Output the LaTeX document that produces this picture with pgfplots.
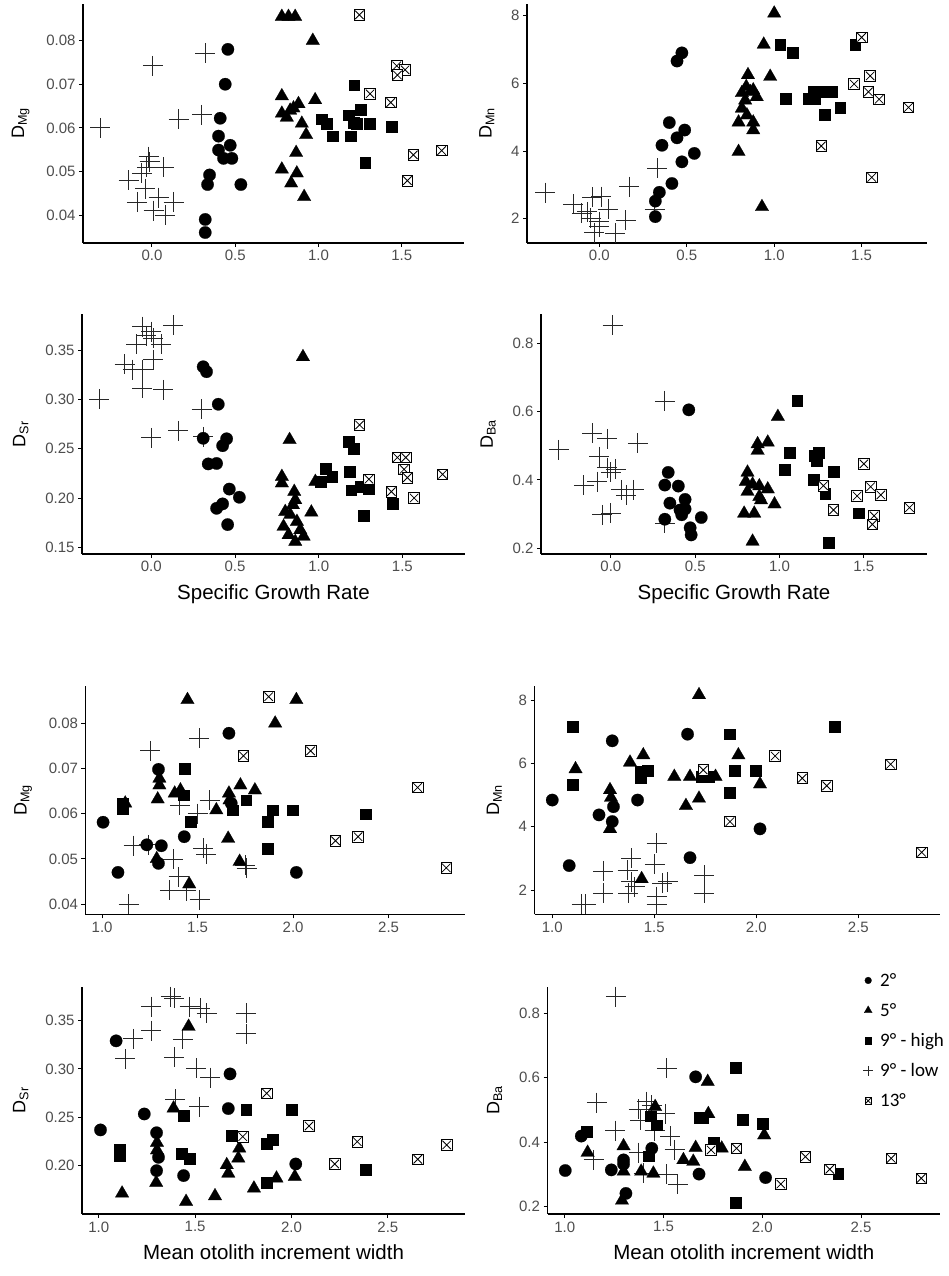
\documentclass[border=0pt]{standalone}
\usepackage{fontspec}
\setmainfont{Liberation Sans}
\newfontfamily\carlito{Carlito}
\usepackage{pgfplots}
\pgfplotsset{compat=1.18}
\definecolor{tickgray}{RGB}{77,77,77}
\definecolor{plusgray}{RGB}{40,40,40}
\pgfdeclareplotmark{boxx}{%
  \pgfpathrectangle{\pgfpoint{-\pgfplotmarksize}{-\pgfplotmarksize}}{\pgfpoint{2\pgfplotmarksize}{2\pgfplotmarksize}}%
  \pgfusepathqfillstroke
  \pgfpathmoveto{\pgfpoint{-0.8\pgfplotmarksize}{-0.8\pgfplotmarksize}}%
  \pgfpathlineto{\pgfpoint{0.8\pgfplotmarksize}{0.8\pgfplotmarksize}}%
  \pgfpathmoveto{\pgfpoint{-0.8\pgfplotmarksize}{0.8\pgfplotmarksize}}%
  \pgfpathlineto{\pgfpoint{0.8\pgfplotmarksize}{-0.8\pgfplotmarksize}}%
  \pgfusepathqstroke
}
\pgfplotsset{
  base/.style={
    scale only axis, anchor=south west, clip=false,
    axis lines*=left,
    axis line style={line width=1.2pt, black},
    tick align=outside, major tick length=4pt,
    tick style={line width=0.9pt, black},
    scaled x ticks=false, scaled y ticks=false,
    ticklabel style={font=\fontsize{15}{15}\selectfont, text=tickgray},
    /pgf/number format/assume math mode=true,
    ylabel style={font=\fontsize{18}{18}\selectfont, text=black, yshift=10pt},
    xlabel style={font=\fontsize{20.5}{20.5}\selectfont, text=black, yshift=-5.5pt},
    x tick label style={/pgf/number format/fixed, /pgf/number format/fixed zerofill, /pgf/number format/precision=1},
  },
  topx/.style={base, xmin=-0.414, xmax=1.874, xtick={0,0.5,1,1.5}},
  botx/.style={base, xmin=0.913, xmax=2.900, xtick={1,1.5,2,2.5}},
  ytwo/.style={y tick label style={/pgf/number format/fixed, /pgf/number format/fixed zerofill, /pgf/number format/precision=2}},
  yone/.style={y tick label style={/pgf/number format/fixed, /pgf/number format/fixed zerofill, /pgf/number format/precision=1}},
  circ/.style={only marks, mark=*, mark size=6.2pt, mark options={fill=black, draw=black, line width=0.2pt}},
  tri/.style={only marks, mark=triangle*, mark size=7.8pt, mark options={fill=black, draw=black, line width=0.2pt}},
  sq/.style={only marks, mark=square*, mark size=5.4pt, mark options={fill=black, draw=black, line width=0.2pt}},
  pl/.style={only marks, mark=+, mark size=10pt, mark options={draw=plusgray, line width=0.9pt}},
  bx/.style={only marks, mark=boxx, mark size=5.3pt, mark options={draw=black, fill=white, line width=0.8pt}},
}
\begin{document}
\begin{tikzpicture}
\path[use as bounding box] (0,0) rectangle (949pt,1276pt);

% Panel 1: SGR vs DMg
\begin{axis}[topx, ytwo, at={(83pt,1033pt)}, width=381pt, height=239pt,
  ymin=0.0336, ymax=0.0884, ytick={0.04,0.05,0.06,0.07,0.08},
  ylabel={D\textsubscript{Mg}}]
\addplot[pl] coordinates {(-0.31,0.060) (0.006,0.0742) (0.32,0.0771) (0.16,0.062) (0.30,0.063) (-0.02,0.0534) (-0.014,0.0522) (0.07,0.051) (-0.14,0.048) (-0.06,0.0496) (-0.04,0.046) (-0.09,0.043) (0.04,0.044) (0.13,0.043) (0.01,0.041) (0.08,0.040) (-0.03,0.051)};
\addplot[circ] coordinates {(0.456,0.078) (0.44,0.070) (0.41,0.0622) (0.40,0.0581) (0.47,0.056) (0.40,0.0549) (0.43,0.053) (0.48,0.053) (0.346,0.0492) (0.334,0.047) (0.534,0.047) (0.32,0.039) (0.32,0.036)};
\addplot[tri] coordinates {(0.78,0.0855) (0.82,0.0855) (0.86,0.0855) (0.966,0.080) (0.78,0.0673) (0.88,0.0655) (0.98,0.0664) (0.85,0.0645) (0.78,0.0633) (0.81,0.0624) (0.83,0.064) (0.90,0.061) (0.926,0.0584) (0.866,0.0543) (0.78,0.0505) (0.87,0.0496) (0.836,0.0473) (0.914,0.0442)};
\addplot[sq] coordinates {(1.214,0.0698) (1.02,0.062) (1.05,0.061) (1.086,0.0581) (1.18,0.0629) (1.21,0.0612) (1.254,0.0641) (1.194,0.0581) (1.306,0.061) (1.44,0.0603) (1.28,0.052) (1.23,0.061)};
\addplot[bx] coordinates {(1.246,0.0859) (1.47,0.0742) (1.52,0.0733) (1.474,0.0721) (1.31,0.0678) (1.434,0.0658) (1.57,0.0538) (1.74,0.0548) (1.534,0.0479)};
\end{axis}

% Panel 2: SGR vs DMn
\begin{axis}[topx, at={(527pt,1033pt)}, width=400pt, height=239pt,
  ymin=1.282, ymax=8.346, ytick={2,4,6,8},
  ylabel={D\textsubscript{Mn}}]
\addplot[pl] coordinates {(-0.31,2.77) (0.33,3.49) (0.17,2.95) (0.316,2.28) (-0.15,2.43) (-0.04,2.63) (0.01,2.65) (0.05,2.28) (-0.10,2.16) (-0.05,2.01) (0.0,1.91) (0.0,1.76) (0.15,1.96) (-0.03,1.59) (0.09,1.57) (-0.07,2.2)};
\addplot[circ] coordinates {(0.472,6.9) (0.444,6.66) (0.40,4.84) (0.488,4.62) (0.444,4.39) (0.358,4.17) (0.543,3.93) (0.472,3.68) (0.415,3.04) (0.343,2.78) (0.32,2.52) (0.32,2.06)};
\addplot[tri] coordinates {(1.0,8.07) (0.94,7.15) (0.977,6.2) (0.85,6.25) (0.84,5.9) (0.815,5.72) (0.863,5.75) (0.90,5.6) (0.88,5.8) (0.834,5.5) (0.815,5.26) (0.844,5.06) (0.796,4.85) (0.88,4.85) (0.88,4.62) (0.796,3.98) (0.93,2.35)};
\addplot[sq] coordinates {(1.034,7.15) (1.107,6.9) (1.463,7.15) (1.063,5.54) (1.196,5.54) (1.225,5.75) (1.27,5.75) (1.234,5.54) (1.326,5.75) (1.377,5.29) (1.29,5.08)};
\addplot[bx] coordinates {(1.50,7.36) (1.549,6.22) (1.457,5.98) (1.539,5.75) (1.60,5.53) (1.768,5.29) (1.269,4.15) (1.558,3.22)};
\end{axis}

% Panel 3: SGR vs DSr
\begin{axis}[topx, ytwo, at={(82pt,722pt)}, width=383pt, height=239.5pt,
  ymin=0.1432, ymax=0.386, ytick={0.15,0.20,0.25,0.30,0.35},
  ylabel={D\textsubscript{Sr}}, xlabel={Specific Growth Rate}]
\addplot[pl] coordinates {(-0.054,0.3737) (0.13,0.375) (0.0,0.3686) (-0.03,0.3645) (0.01,0.362) (-0.09,0.3557) (0.06,0.3557) (0.01,0.340) (-0.16,0.3355) (-0.11,0.330) (-0.05,0.330) (-0.054,0.311) (0.07,0.3095) (-0.31,0.300) (0.30,0.290) (0.16,0.268) (0.0,0.261) (0.31,0.262)};
\addplot[circ] coordinates {(0.31,0.333) (0.33,0.328) (0.40,0.295) (0.31,0.2605) (0.45,0.26) (0.426,0.253) (0.34,0.2345) (0.39,0.235) (0.466,0.209) (0.526,0.2007) (0.426,0.194) (0.39,0.1895) (0.456,0.173)};
\addplot[tri] coordinates {(0.906,0.343) (0.826,0.259) (0.78,0.2216) (0.78,0.215) (0.854,0.2064) (0.86,0.198) (0.846,0.193) (0.956,0.1855) (0.80,0.186) (0.83,0.183) (0.87,0.176) (0.79,0.171) (0.89,0.1676) (0.82,0.1625) (0.91,0.161) (0.86,0.1557) (0.98,0.2165)};
\addplot[sq] coordinates {(1.18,0.257) (1.21,0.250) (1.04,0.230) (1.01,0.2166) (1.08,0.2216) (1.186,0.2267) (1.194,0.208) (1.25,0.2115) (1.30,0.209) (1.44,0.1946) (1.27,0.182)};
\addplot[bx] coordinates {(1.244,0.274) (1.47,0.241) (1.52,0.241) (1.51,0.229) (1.53,0.2206) (1.30,0.219) (1.434,0.2064) (1.57,0.200) (1.74,0.224)};
\end{axis}

% Panel 4: SGR vs DBa
\begin{axis}[topx, yone, at={(541pt,722pt)}, width=386pt, height=239.5pt,
  ymin=0.1833, ymax=0.884, ytick={0.2,0.4,0.6,0.8},
  ylabel={D\textsubscript{Ba}}, xlabel={Specific Growth Rate}]
\addplot[pl] coordinates {(0.01,0.852) (0.32,0.631) (-0.31,0.488) (0.16,0.507) (-0.11,0.537) (-0.02,0.52) (-0.07,0.468) (-0.02,0.436) (0.03,0.432) (0.0,0.422) (-0.16,0.385) (-0.08,0.395) (0.06,0.371) (0.135,0.371) (0.09,0.356) (-0.05,0.298) (0.0,0.302) (0.32,0.273)};
\addplot[circ] coordinates {(0.462,0.605) (0.34,0.422) (0.32,0.385) (0.40,0.382) (0.44,0.343) (0.35,0.332) (0.41,0.312) (0.44,0.315) (0.42,0.298) (0.536,0.29) (0.32,0.285) (0.47,0.26) (0.476,0.239)};
\addplot[tri] coordinates {(0.99,0.585) (0.87,0.505) (0.93,0.51) (0.87,0.486) (0.81,0.422) (0.80,0.395) (0.84,0.387) (0.88,0.382) (0.93,0.373) (0.81,0.366) (0.88,0.351) (0.89,0.341) (0.97,0.329) (0.79,0.302) (0.85,0.302) (0.84,0.22)};
\addplot[sq] coordinates {(1.104,0.631) (1.06,0.481) (1.23,0.481) (1.21,0.471) (1.22,0.456) (1.03,0.431) (1.32,0.424) (1.20,0.40) (1.27,0.359) (1.47,0.303) (1.29,0.217)};
\addplot[bx] coordinates {(1.50,0.447) (1.54,0.38) (1.46,0.353) (1.60,0.356) (1.26,0.383) (1.32,0.312) (1.56,0.295) (1.55,0.27) (1.77,0.319)};
\end{axis}

% Panel 5: MOIW vs DMg
\begin{axis}[botx, ytwo, at={(85.5pt,361.5pt)}, width=379.5pt, height=228pt,
  ymin=0.03768, ymax=0.08815, ytick={0.04,0.05,0.06,0.07,0.08},
  ylabel={D\textsubscript{Mg}}]
\addplot[pl] coordinates {(1.251,0.0739) (1.508,0.0767) (1.563,0.063) (1.407,0.0619) (1.50,0.060) (1.165,0.0529) (1.243,0.0531) (1.373,0.0499) (1.529,0.0523) (1.546,0.051) (1.40,0.046) (1.355,0.0431) (1.44,0.0429) (1.51,0.0409) (1.139,0.040) (1.75,0.0486) (1.757,0.0479)};
\addplot[circ] coordinates {(1.005,0.0581) (1.083,0.047) (1.234,0.0531) (1.31,0.0529) (1.295,0.0698) (1.295,0.049) (1.43,0.0549) (1.664,0.0778) (1.676,0.0623) (2.017,0.047)};
\addplot[tri] coordinates {(1.447,0.0852) (2.017,0.0852) (1.906,0.080) (1.30,0.0678) (1.30,0.0663) (1.291,0.0632) (1.121,0.0623) (1.38,0.0645) (1.41,0.0652) (1.598,0.0608) (1.664,0.0645) (1.667,0.063) (1.724,0.0663) (1.80,0.0652) (1.66,0.0545) (1.72,0.0494) (1.286,0.050) (1.456,0.0444)};
\addplot[sq] coordinates {(1.433,0.0699) (1.425,0.0641) (1.464,0.0582) (1.109,0.0612) (1.109,0.0622) (1.685,0.0608) (1.754,0.063) (1.893,0.0608) (1.997,0.0608) (1.867,0.0582) (2.378,0.0599) (1.867,0.0522)};
\addplot[bx] coordinates {(1.872,0.0859) (1.74,0.0728) (2.092,0.0739) (2.652,0.0658) (2.222,0.054) (2.34,0.0549) (2.802,0.048)};
\end{axis}

% Panel 6: MOIW vs DMn
\begin{axis}[botx, at={(534.5pt,361.5pt)}, width=405.5pt, height=228pt,
  ymin=1.226, ymax=8.426, ytick={2,4,6,8},
  ylabel={D\textsubscript{Mn}}]
\addplot[pl] coordinates {(1.511,3.47) (1.386,3.0) (1.369,2.63) (1.25,2.60) (1.386,2.26) (1.503,2.81) (1.565,2.26) (1.54,2.22) (1.745,2.47) (1.745,1.89) (1.25,1.89) (1.373,1.89) (1.405,2.1) (1.511,1.79) (1.511,1.53) (1.144,1.55) (1.163,1.55)};
\addplot[circ] coordinates {(1.0,4.84) (1.083,2.77) (1.229,4.37) (1.294,6.71) (1.30,4.63) (1.294,4.16) (1.418,4.84) (1.663,6.92) (1.675,3.02) (2.018,3.93)};
\addplot[tri] coordinates {(1.719,8.16) (1.114,5.82) (1.446,6.26) (1.381,6.03) (1.283,5.16) (1.288,4.92) (1.598,5.58) (1.675,5.58) (1.80,5.58) (1.912,6.26) (2.018,5.34) (1.655,4.66) (1.719,4.89) (1.283,3.93) (1.438,2.35)};
\addplot[sq] coordinates {(1.10,7.16) (1.10,5.32) (1.433,5.74) (1.433,5.55) (1.467,5.76) (1.732,5.58) (1.765,5.58) (1.868,6.92) (1.895,5.76) (1.998,5.76) (1.868,5.08) (2.382,7.16)};
\addplot[bx] coordinates {(1.74,5.79) (2.092,6.23) (2.225,5.53) (2.345,5.29) (2.658,5.97) (1.871,4.16) (2.81,3.19)};
\end{axis}

% Panel 7: MOIW vs DSr
\begin{axis}[botx, ytwo, at={(82pt,62pt)}, width=383pt, height=227.3pt,
  ymin=0.15, ymax=0.385, ytick={0.20,0.25,0.30,0.35},
  ylabel={D\textsubscript{Sr}}, xlabel={Mean otolith increment width}]
\addplot[pl] coordinates {(1.374,0.3748) (1.391,0.3731) (1.272,0.3645) (1.471,0.3645) (1.526,0.3628) (1.56,0.3576) (1.764,0.3576) (1.764,0.3362) (1.272,0.3397) (1.178,0.331) (1.436,0.3307) (1.138,0.3103) (1.391,0.312) (1.505,0.3007) (1.578,0.291) (1.397,0.2686) (1.522,0.261)};
\addplot[circ] coordinates {(1.009,0.2369) (1.09,0.329) (1.236,0.2534) (1.30,0.234) (1.31,0.2086) (1.30,0.1948) (1.44,0.1897) (1.681,0.2948) (1.672,0.259) (2.022,0.2017)};
\addplot[tri] coordinates {(1.466,0.3438) (1.388,0.2593) (1.302,0.2238) (1.302,0.216) (1.729,0.2179) (1.724,0.2076) (1.664,0.2007) (1.672,0.192) (1.298,0.1824) (1.121,0.1714) (1.453,0.1628) (1.603,0.1686) (1.805,0.1766) (1.922,0.1869) (2.017,0.1886)};
\addplot[sq] coordinates {(1.44,0.2514) (1.764,0.2576) (2.0,0.2576) (1.69,0.231) (1.109,0.2169) (1.109,0.21) (1.431,0.2128) (1.471,0.2076) (1.871,0.2224) (1.90,0.2272) (1.871,0.1824) (2.383,0.1955)};
\addplot[bx] coordinates {(1.871,0.2748) (2.091,0.241) (1.747,0.230) (2.341,0.2248) (2.224,0.2017) (2.655,0.2066) (2.805,0.2214)};
\end{axis}

% Panel 8: MOIW vs DBa
\begin{axis}[botx, yone, at={(547.5pt,62pt)}, width=392.5pt, height=227.3pt,
  ymin=0.177, ymax=0.883, ytick={0.2,0.4,0.6,0.8},
  ylabel={D\textsubscript{Ba}}, xlabel={Mean otolith increment width},
  legend style={at={(0.7936,1.069)}, anchor=north west, draw=none, fill=none,
    font=\carlito\fontsize{19}{19}\selectfont, row sep=11.5pt, inner sep=0pt},
  legend cell align=left,
  legend image code/.code={\path[draw=none, fill=none] (0pt,-2pt) (19pt,2pt); \draw[mark repeat=2, mark phase=2, #1] plot coordinates {(0pt,0pt) (9pt,0pt) (18pt,0pt)};}]
\addplot[pl, forget plot] coordinates {(1.259,0.852) (1.517,0.629) (1.163,0.523) (1.416,0.526) (1.374,0.502) (1.508,0.488) (1.256,0.436) (1.382,0.469) (1.455,0.436) (1.534,0.419) (1.556,0.376) (1.374,0.368) (1.146,0.345) (1.517,0.301) (1.572,0.27) (1.40,0.303) (1.44,0.515)};
\addplot[circ, forget plot] coordinates {(1.003,0.312) (1.084,0.419) (1.236,0.314) (1.298,0.345) (1.298,0.332) (1.31,0.241) (1.441,0.381) (1.663,0.603) (1.68,0.301) (2.017,0.29)};
\addplot[tri, forget plot] coordinates {(1.724,0.588) (1.458,0.51) (1.727,0.488) (1.298,0.388) (1.116,0.368) (1.298,0.309) (1.387,0.309) (1.449,0.303) (1.601,0.345) (1.663,0.383) (1.651,0.34) (1.795,0.381) (1.912,0.324) (2.01,0.422) (1.29,0.219)};
\addplot[sq, forget plot] coordinates {(1.867,0.632) (1.109,0.433) (1.433,0.481) (1.466,0.453) (1.68,0.477) (1.70,0.477) (1.899,0.471) (2.0,0.457) (1.424,0.357) (1.753,0.399) (2.384,0.303) (1.867,0.212)};
\addplot[bx, forget plot] coordinates {(1.87,0.381) (1.741,0.376) (2.219,0.355) (2.342,0.316) (2.094,0.27) (2.653,0.35) (2.805,0.288)};
\addlegendimage{circ, mark size=3.4pt}
\addlegendentry{2°}
\addlegendimage{tri, mark size=4.6pt}
\addlegendentry{5°}
\addlegendimage{sq, mark size=3.2pt}
\addlegendentry{9° - high}
\addlegendimage{pl, mark size=4.8pt}
\addlegendentry{9° - low}
\addlegendimage{bx, mark size=3.1pt}
\addlegendentry{13°}
\end{axis}
\end{tikzpicture}
\end{document}
